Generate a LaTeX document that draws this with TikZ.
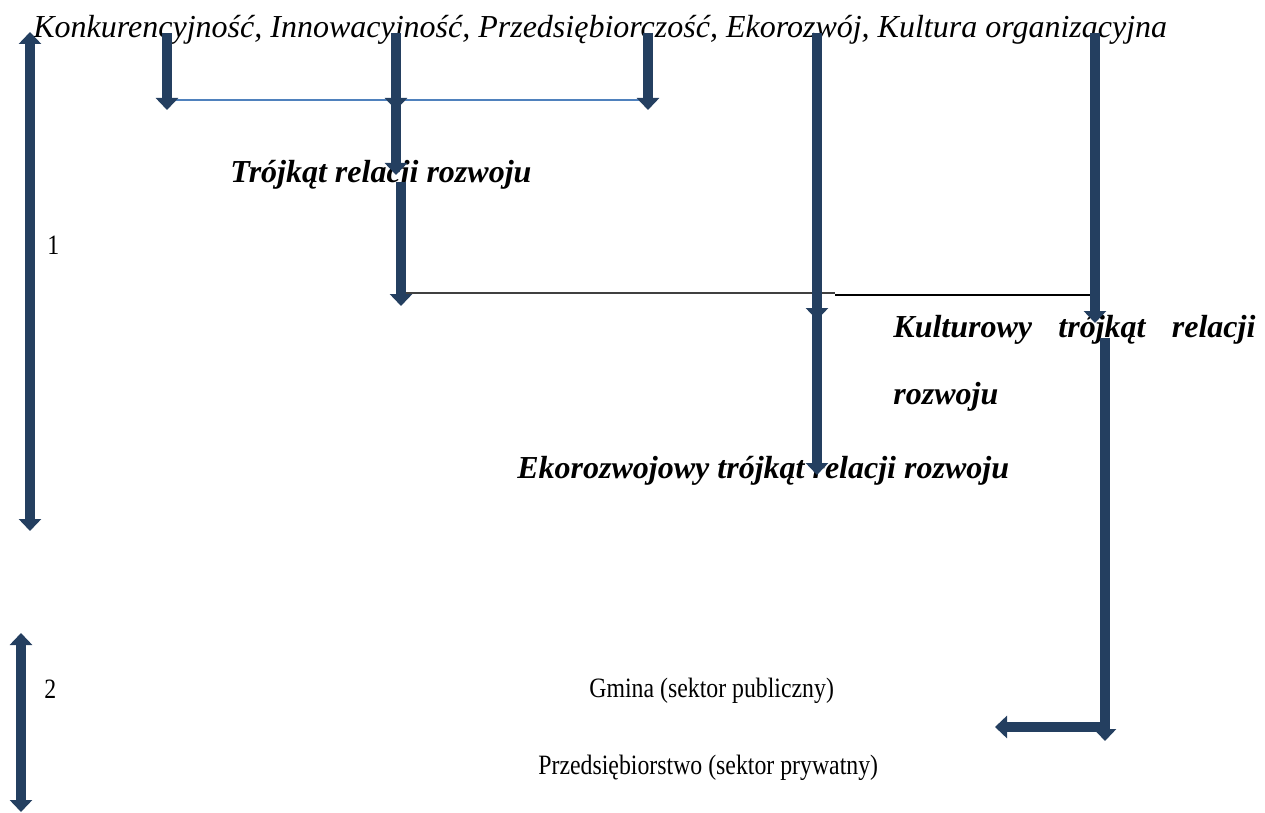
\documentclass[tikz,border=0pt]{standalone}
\usepackage{fontspec}
\setmainfont{Liberation Serif}
\newfontfamily\condserif[FakeStretch=0.85]{Liberation Serif}
\usetikzlibrary{arrows.meta}
\definecolor{navy}{RGB}{36,63,96}
\definecolor{lineblue}{RGB}{79,129,189}
\begin{document}
\begin{tikzpicture}[x=0.5pt,y=-0.5pt,
  fat/.style={draw=navy, line width=5pt, -{Triangle[width=11pt,length=6pt]}},
  fatboth/.style={draw=navy, line width=5pt, {Triangle[width=11pt,length=6pt]}-{Triangle[width=11pt,length=6pt]}},
  lbl/.style={inner sep=0pt, anchor=base west, font=\condserif\fontsize{14pt}{17pt}\selectfont},
  ilbl/.style={lbl, font=\fontsize{16pt}{19pt}\selectfont\itshape},
  bilbl/.style={lbl, font=\fontsize{16pt}{19pt}\selectfont\bfseries\itshape},
  thinblue/.style={draw=lineblue, line width=1pt},
  thinblack/.style={draw=black, line width=1pt}]
\useasboundingbox (0,0) rectangle (1265,813);

% texts
\node[ilbl] (title) at (33,38) {Konkurencyjność, Innowacyjność, Przedsiębiorczość, Ekorozwój, Kultura organizacyjna};
\node[bilbl] (troj) at (230,183) {Trójkąt relacji rozwoju};
\node[lbl] (one) at (47,255) {1};
\node[bilbl] (kult) at (893,337) {\makebox[181pt][s]{Kulturowy trójkąt relacji}};
\node[bilbl] (rozw) at (893,404) {rozwoju};
\node[bilbl] (eko) at (517,478) {Ekorozwojowy trójkąt relacji rozwoju};
\node[lbl] (two) at (44,698) {2};
\node[lbl] (gmina) at (589,697) {Gmina (sektor publiczny)};
\node[lbl] (przed) at (538,774) {Przedsiębiorstwo (sektor prywatny)};

% coordinates
\coordinate (oneT) at (30,32);   \coordinate (oneB) at (30,531);
\coordinate (twoT) at (21,633);  \coordinate (twoB) at (21,812);
\coordinate (aT) at (167,33);    \coordinate (aB) at (167,110);
\coordinate (cT) at (648,33);    \coordinate (cB) at (648,110);
\coordinate (b1T) at (396,33);   \coordinate (b1B) at (396,110);
\coordinate (b2T) at (396,100);  \coordinate (b2B) at (396,175);
\coordinate (b3T) at (401,182);  \coordinate (b3B) at (401,306);
\coordinate (d1T) at (817,33);   \coordinate (d1B) at (817,320);
\coordinate (d2T) at (817,305);  \coordinate (d2B) at (817,475);
\coordinate (eT) at (1095,33);   \coordinate (eB) at (1095,323);
\coordinate (fT) at (1105,338);  \coordinate (fB) at (1105,741);
\coordinate (gR) at (1108,727);  \coordinate (gL) at (995,727);
\coordinate (blL) at (167,100);  \coordinate (blR) at (648,100);
\coordinate (k1L) at (405,293);  \coordinate (k1R) at (835,293);
\coordinate (k2L) at (835,295);  \coordinate (k2R) at (1100,295);

% thin lines
\draw[thinblue] (blL) -- (blR);
\draw[thinblack, draw=black!75] (k1L) -- (k1R);
\draw[thinblack] (k2L) -- (k2R);

% fat arrows
\draw[fatboth] (oneT) -- (oneB);
\draw[fatboth] (twoT) -- (twoB);
\draw[fat] (aT) -- (aB);
\draw[fat] (cT) -- (cB);
\draw[fat] (b1T) -- (b1B);
\draw[fat] (b2T) -- (b2B);
\draw[fat] (b3T) -- (b3B);
\draw[fat] (d1T) -- (d1B);
\draw[fat] (d2T) -- (d2B);
\draw[fat] (eT) -- (eB);
\draw[fat] (fT) -- (fB);
\draw[fat] (gR) -- (gL);
\end{tikzpicture}
\end{document}
